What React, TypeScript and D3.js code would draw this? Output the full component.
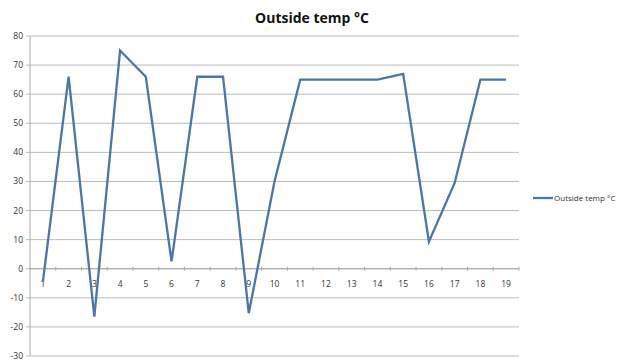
import React from "react";
import * as d3 from "d3";

const categories = ["1","2","3","4","5","6","7","8","9","10","11","12","13","14","15","16","17","18","19"];
const values = [-4.5, 66, -16.5, 75, 66, 2.5, 66, 66, -15.3, 30, 65, 65, 65, 65, 67, 9.3, 29.5, 65, 65];
const yTicks = [80, 70, 60, 50, 40, 30, 20, 10, 0, -10, -20, -30];
const seriesName = "Outside temp °C";
const title = "Outside temp °C";

export default function App() {
  const W = 620, H = 361;
  const left = 30, right = 519, top = 36, bottom = 356;
  const x = d3.scaleBand<string>().domain(categories).range([left, right]);
  const y = d3.scaleLinear().domain([-30, 80]).range([bottom, top]);
  const line = d3.line<number>()
    .x((_, i) => (x(categories[i]) as number) + x.bandwidth() / 2)
    .y((d) => y(d));
  const font = "'Open Sans', 'Liberation Sans', sans-serif";
  const y0 = y(0);
  return (
    <svg width={W} height={H} style={{ position: "absolute", left: 0, top: 0, background: "#fff" }}>
      <text x={312} y={23} textAnchor="middle" fontFamily={font} fontWeight="bold" fontSize={14} fill="#111">{title}</text>
      {yTicks.map((t) => (
        <g key={t}>
          <line x1={left - 4} x2={right} y1={y(t)} y2={y(t)} stroke="#bcbcbc" strokeWidth={1} />
          <text x={left - 7} y={y(t) + 3} textAnchor="end" fontFamily={font} fontSize={8.5} fill="#333">{t}</text>
        </g>
      ))}
      <line x1={left} x2={left} y1={top} y2={bottom} stroke="#aaaaaa" strokeWidth={1} />
      <line x1={left} x2={right} y1={y0} y2={y0} stroke="#aaaaaa" strokeWidth={1} />
      {categories.map((c, i) => {
        const xs = (x(c) as number) + x.bandwidth();
        return <line key={"tk" + i} x1={xs} x2={xs} y1={y0 - 2} y2={y0 + 2} stroke="#aaaaaa" strokeWidth={1} />;
      })}
      {categories.map((c) => (
        <text key={"l" + c} x={(x(c) as number) + x.bandwidth() / 2} y={y0 + 18} textAnchor="middle" fontFamily={font} fontSize={8.5} fill="#333">{c}</text>
      ))}
      <path d={line(values) || ""} fill="none" stroke="#4a76a8" strokeWidth={2.3} strokeLinejoin="miter" />
      <line x1={533} x2={553} y1={198} y2={198} stroke="#4a76a8" strokeWidth={2.3} />
      <text x={554} y={201} fontFamily={font} fontSize={8} fill="#333">{seriesName}</text>
    </svg>
  );
}
